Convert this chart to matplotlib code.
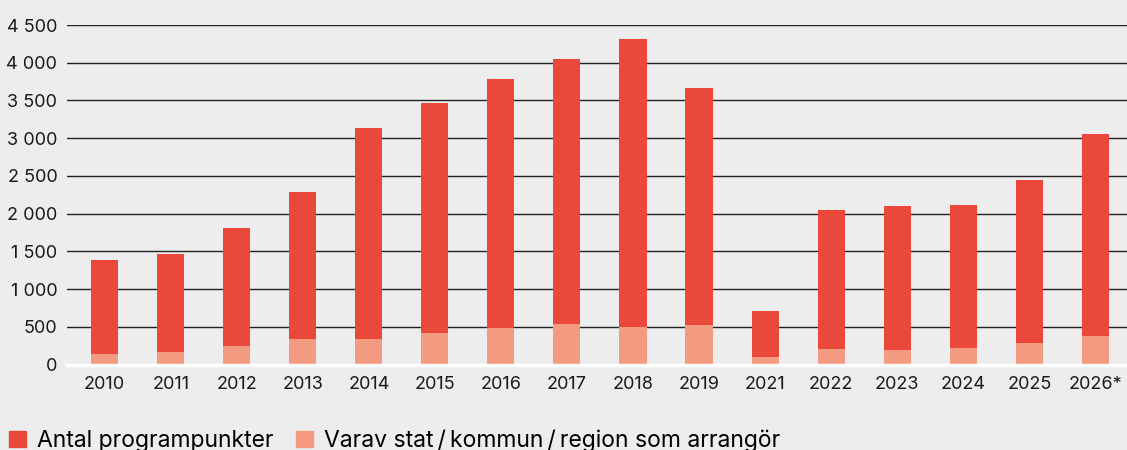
import matplotlib.pyplot as plt
import matplotlib.ticker as mticker
from matplotlib.patches import Patch
import numpy as np

plt.rcParams['font.family'] = ['Inter', 'DejaVu Sans']

years = ['2010', '2011', '2012', '2013', '2014', '2015', '2016', '2017',
         '2018', '2019', '2021', '2022', '2023', '2024', '2025', '2026*']
total = [1390, 1470, 1810, 2280, 3140, 3460, 3790, 4050,
         4310, 3670, 710, 2050, 2100, 2120, 2450, 3060]
varav = [140, 170, 245, 340, 340, 420, 485, 540,
         500, 525, 100, 205, 195, 220, 285, 380]

red = '#E9483A'
light = '#F39A80'
bg = '#ECEDEC'

fig = plt.figure(figsize=(11.27, 4.5), dpi=100, facecolor=bg)
ax = fig.add_axes([67 / 1127, 1 - 364.5 / 450, 1 - 67 / 1127, 339.5 / 450])
ax.set_facecolor(bg)

x = np.arange(len(years))
ax.bar(x, total, width=0.41, color=red, zorder=2)
ax.bar(x, varav, width=0.41, color=light, zorder=3)

ax.set_ylim(0, 4500)
ax.set_xlim(-0.57, 15.48)
ax.set_yticks(np.arange(0, 4501, 500))
ax.yaxis.set_major_formatter(mticker.FuncFormatter(lambda v, p: f'{int(v):,}'.replace(',', ' ')))
ax.set_xticks(x)
ax.set_xticklabels(years)
ax.tick_params(length=0, labelsize=13, colors='#1a1a1a')
ax.tick_params(axis='y', pad=7)
ax.tick_params(axis='x', pad=8)
for s in ax.spines.values():
    s.set_visible(False)

for v in np.arange(500, 4501, 500):
    ax.axhline(v, color='#222222', lw=1, zorder=1)
ax.axhline(0, color='white', lw=2.5, zorder=4, clip_on=False)

handles = [Patch(color=red, label='Antal programpunkter'),
           Patch(color=light, label='Varav stat\u2009/\u2009kommun\u2009/\u2009region som arrangör')]
fig.legend(handles=handles, loc='lower left', bbox_to_anchor=(-0.004, -0.035),
           ncol=2, frameon=False, fontsize=16.5, handlelength=0.75, handleheight=0.75,
           handletextpad=0.45, columnspacing=1.0, borderaxespad=0.2)

fig.savefig('out.png', dpi=100, facecolor=bg)
